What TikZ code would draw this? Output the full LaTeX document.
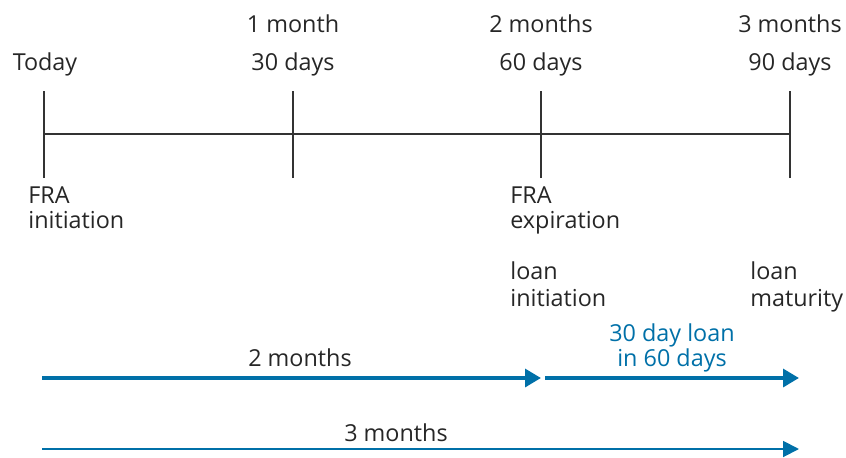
\documentclass[tikz,border=0pt]{standalone}
\usepackage{fontspec}
\setmainfont{Open Sans}
\usetikzlibrary{arrows.meta}
\definecolor{loanblue}{RGB}{0,112,168}
\tikzstyle{lbl} = [inner sep=0pt, font=\fontsize{13.3}{14.2}\selectfont, text=black!85]
\tikzstyle{note} = [lbl, align=left, anchor=base west]
\tikzstyle{tick} = [line width=0.9pt, black!80]
\tikzstyle{bigarrow} = [line width=2.8pt, loanblue, -{Triangle[length=9pt, width=10pt]}]
\tikzstyle{thinarrow} = [line width=1.1pt, loanblue, -{Triangle[length=9pt, width=9pt]}]

\begin{document}
\begin{tikzpicture}[x=0.02cm, y=-0.02cm]
\useasboundingbox (0,0) rectangle (846,457);

% Time line
\coordinate (t0) at (44,134);
\coordinate (t1) at (293,134);
\coordinate (t2) at (541,134);
\coordinate (t3) at (790,134);
\draw [tick] (t0) -- (t3);
\foreach \t in {t0,t1,t2,t3}
  \draw [tick] ([yshift=-44*0.02cm]\t) -- ([yshift=43*0.02cm]\t);

% Nodes
\node (today) [lbl, anchor=base] at (45,70) {Today};
\node (month1) [lbl, anchor=base] at (293,32) {1 month};
\node (days30) [lbl, anchor=base] at (293,70) {30 days};
\node (month2) [lbl, anchor=base] at (541,32) {2 months};
\node (days60) [lbl, anchor=base] at (541,70) {60 days};
\node (month3) [lbl, anchor=base] at (790,32) {3 months};
\node (days90) [lbl, anchor=base] at (790,70) {90 days};

\node (fraini) [note] at (28,228) {FRA\\initiation};
\node (fraexp) [note] at (510,228) {FRA\\expiration};
\node (loanini) [note, font=\fontsize{13.3}{15.2}\selectfont] at (510,306) {loan\\initiation};
\node (loanmat) [note, font=\fontsize{13.3}{15.2}\selectfont] at (750,306) {loan\\maturity};

\node (twomonths) [lbl, anchor=base] at (300,366) {2 months};
\node (loan30) [lbl, anchor=base, align=center, text=loanblue] at (672,366) {30 day loan\\in 60 days};
\node (threemonths) [lbl, anchor=base] at (396,441) {3 months};

% Arrows
\coordinate (a0) at (42,378);
\coordinate (a1) at (541,378);
\coordinate (a2) at (545,378);
\coordinate (a3) at (799,378);
\coordinate (b0) at (42,449);
\coordinate (b1) at (799,449);
\draw [bigarrow] (a0) -- (a1);
\draw [bigarrow] (a2) -- (a3);
\draw [thinarrow] (b0) -- (b1);

\end{tikzpicture}
\end{document}
